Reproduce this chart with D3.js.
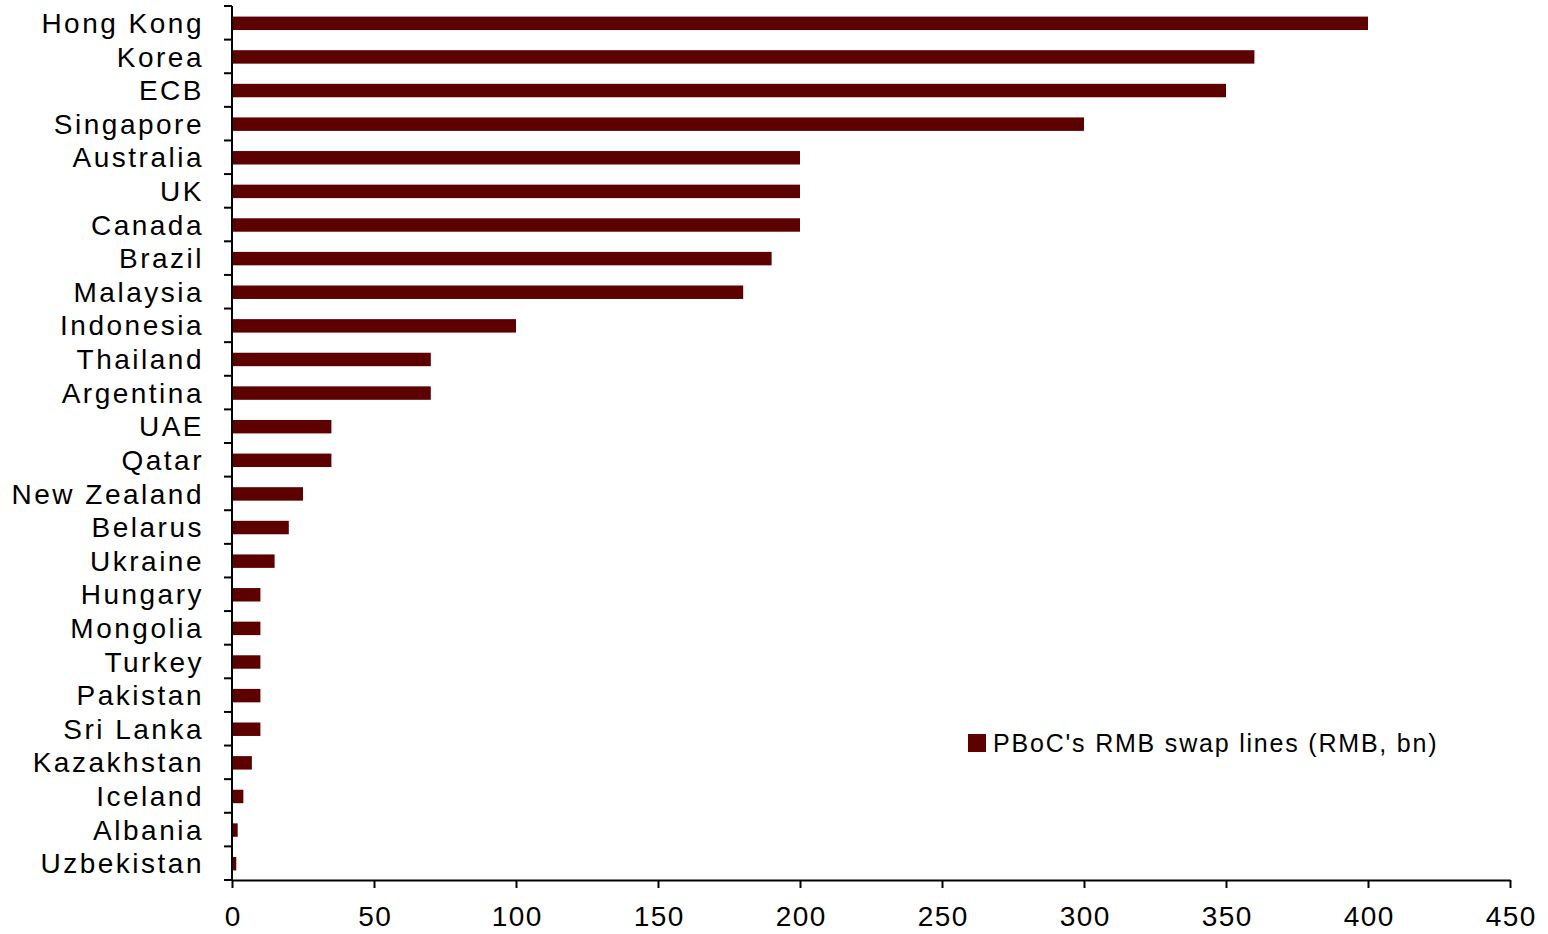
<!DOCTYPE html>
<html>
<head>
<meta charset="utf-8">
<script src="https://cdn.jsdelivr.net/npm/d3@7"></script>
<style>
  html, body { margin: 0; padding: 0; background: #fff; }
  svg { display: block; font-family: "Liberation Sans", Arial, sans-serif; }
</style>
</head>
<body>
<svg id="chart" width="1548" height="934"></svg>
<script>
// PBoC bilateral RMB swap lines, RMB bn
const countries = ["Hong Kong", "Korea", "ECB", "Singapore", "Australia", "UK", "Canada", "Brazil",
  "Malaysia", "Indonesia", "Thailand", "Argentina", "UAE", "Qatar", "New Zealand", "Belarus",
  "Ukraine", "Hungary", "Mongolia", "Turkey", "Pakistan", "Sri Lanka", "Kazakhstan", "Iceland",
  "Albania", "Uzbekistan"];
const swapLines = [400, 360, 350, 300, 200, 200, 200, 190, 180, 100, 70, 70, 35, 35, 25, 20,
  15, 10, 10, 10, 10, 10, 7, 4, 2, 1.5];
const xTicks = [0, 50, 100, 150, 200, 250, 300, 350, 400, 450];
const seriesName = "PBoC's RMB swap lines (RMB, bn)";

const barColor = "#5c0000";
const margin = { left: 232, right: 38, top: 6, bottom: 54 };
const W = 1548, H = 934;

const svg = d3.select("#chart");
const x = d3.scaleLinear().domain([0, 450]).range([margin.left, W - margin.right]);
const y = d3.scaleBand().domain(countries).range([margin.top, H - margin.bottom])
  .paddingInner(0.6).paddingOuter(0.3);

// bars
svg.append("g").selectAll("rect")
  .data(countries.map((c, i) => ({ c, v: swapLines[i] })))
  .join("rect")
  .attr("x", x(0))
  .attr("y", d => y(d.c) + 0.5)
  .attr("width", d => x(d.v) - x(0))
  .attr("height", y.bandwidth())
  .attr("fill", barColor);

// category axis: ticks sit on band boundaries
const bounds = d3.range(countries.length + 1).map(i => margin.top + i * (H - margin.top - margin.bottom) / countries.length);
const gy = svg.append("g");
gy.append("line")
  .attr("x1", x(0)).attr("x2", x(0))
  .attr("y1", bounds[0]).attr("y2", bounds[bounds.length - 1])
  .attr("stroke", "#000").attr("stroke-width", 2);
gy.selectAll("line.tick").data(bounds).join("line")
  .attr("class", "tick")
  .attr("x1", x(0) - 8).attr("x2", x(0))
  .attr("y1", d => d).attr("y2", d => d)
  .attr("stroke", "#000").attr("stroke-width", 2);
gy.selectAll("text").data(countries).join("text")
  .attr("x", 204)
  .attr("y", d => y(d) + y.bandwidth() / 2)
  .attr("dy", "0.36em")
  .attr("text-anchor", "end")
  .attr("font-size", 28)
  .attr("letter-spacing", 2.5)
  .attr("fill", "#000")
  .text(d => d);

// value axis
const xAxis = d3.axisBottom(x).tickValues(xTicks).tickSize(8).tickSizeOuter(0).tickPadding(18);
const gx = svg.append("g")
  .attr("transform", `translate(0,${H - margin.bottom})`)
  .call(xAxis);
gx.select(".domain").attr("stroke", "#000").attr("stroke-width", 2);
gx.selectAll(".tick line").attr("stroke", "#000").attr("stroke-width", 2);
gx.selectAll(".tick text")
  .attr("font-size", 28)
  .attr("font-family", "Liberation Sans, Arial, sans-serif")
  .attr("letter-spacing", 1.5)
  .attr("dx", 0.75)
  .attr("fill", "#000");

// legend
const lg = svg.append("g").attr("transform", "translate(968,734)");
lg.append("rect").attr("width", 18).attr("height", 18).attr("fill", barColor);
lg.append("text")
  .attr("x", 25).attr("y", 9).attr("dy", "0.36em")
  .attr("font-size", 25)
  .attr("letter-spacing", 1.8)
  .attr("fill", "#000")
  .text(seriesName);
</script>
</body>
</html>
